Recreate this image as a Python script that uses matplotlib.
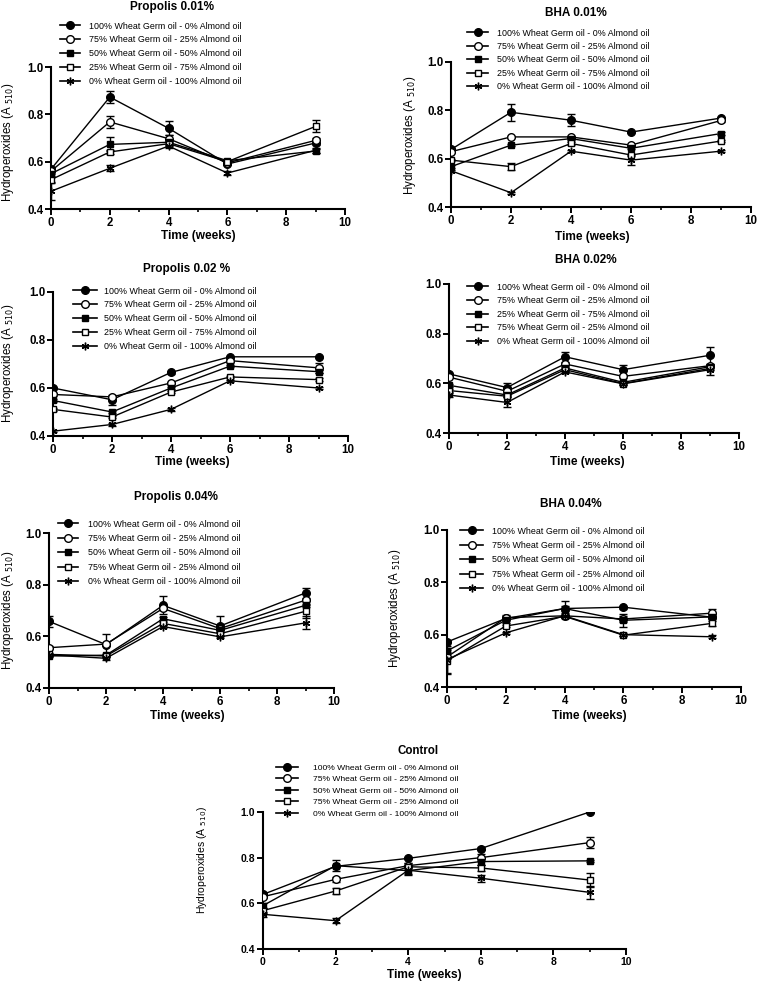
import matplotlib
matplotlib.use("Agg")
import matplotlib.pyplot as plt
from matplotlib.lines import Line2D
from matplotlib.ticker import MultipleLocator, FormatStrFormatter

plt.rcParams['font.family'] = ['Liberation Sans', 'DejaVu Sans']

W, H = 757, 983
weeks = [0, 2, 4, 6, 9]

labels_std = ["100% Wheat Germ oil - 0% Almond oil",
              "75% Wheat Germ oil - 25% Almond oil",
              "50% Wheat Germ oil - 50% Almond oil",
              "25% Wheat Germ oil - 75% Almond oil",
              "0% Wheat Germ oil - 100% Almond oil"]
labels_bha002 = ["100% Wheat Germ oil - 0% Almond oil",
                 "75% Wheat Germ oil - 25% Almond oil",
                 "25% Wheat Germ oil - 75% Almond oil",
                 "75% Wheat Germ oil - 25% Almond oil",
                 "0% Wheat Germ oil - 100% Almond oil"]
labels_alt = ["100% Wheat Germ oil - 0% Almond oil",
              "75% Wheat Germ oil - 25% Almond oil",
              "50% Wheat Germ oil - 50% Almond oil",
              "75% Wheat Germ oil - 25% Almond oil",
              "0% Wheat Germ oil - 100% Almond oil"]

# Propolis 0.01%
prop001 = [[0.568, 0.873, 0.741, 0.590, 0.679],
           [0.560, 0.768, 0.697, 0.595, 0.690],
           [0.549, 0.673, 0.682, 0.604, 0.645],
           [0.524, 0.641, 0.676, 0.600, 0.749],
           [0.475, 0.572, 0.666, 0.552, 0.648]]
prop001_err = [[0.010, 0.025, 0.030, 0.005, 0.010],
               [0.010, 0.025, 0.015, 0.005, 0.010],
               [0.010, 0.030, 0.010, 0.005, 0.010],
               [0.010, 0.010, 0.010, 0.005, 0.025],
               [0.035, 0.012, 0.010, 0.008, 0.010]]
# BHA 0.01%
bha001 = [[0.638, 0.792, 0.759, 0.710, 0.768],
          [0.629, 0.690, 0.690, 0.656, 0.758],
          [0.567, 0.656, 0.683, 0.643, 0.704],
          [0.594, 0.567, 0.663, 0.615, 0.673],
          [0.550, 0.459, 0.631, 0.594, 0.631]]
bha001_err = [[0.005, 0.035, 0.025, 0.005, 0.005],
              [0.005, 0.005, 0.005, 0.005, 0.005],
              [0.005, 0.005, 0.005, 0.005, 0.005],
              [0.005, 0.015, 0.005, 0.005, 0.005],
              [0.005, 0.005, 0.005, 0.020, 0.005]]
# Propolis 0.02 %
prop002 = [[0.600, 0.551, 0.665, 0.730, 0.730],
           [0.573, 0.563, 0.621, 0.714, 0.684],
           [0.548, 0.500, 0.600, 0.691, 0.668],
           [0.511, 0.479, 0.583, 0.646, 0.635],
           [0.420, 0.448, 0.511, 0.630, 0.600]]
prop002_err = [[0.005, 0.020, 0.005, 0.005, 0.005],
               [0.005, 0.005, 0.005, 0.005, 0.020],
               [0.005, 0.005, 0.005, 0.005, 0.005],
               [0.005, 0.005, 0.005, 0.005, 0.005],
               [0.005, 0.005, 0.005, 0.005, 0.005]]
# BHA 0.02%
bha002 = [[0.638, 0.583, 0.707, 0.655, 0.713],
          [0.625, 0.568, 0.678, 0.628, 0.671],
          [0.592, 0.553, 0.662, 0.604, 0.667],
          [0.571, 0.548, 0.655, 0.599, 0.660],
          [0.553, 0.523, 0.646, 0.598, 0.655]]
bha002_err = [[0.005, 0.020, 0.020, 0.020, 0.035],
              [0.005, 0.010, 0.005, 0.005, 0.005],
              [0.005, 0.005, 0.005, 0.005, 0.005],
              [0.005, 0.005, 0.005, 0.005, 0.005],
              [0.010, 0.020, 0.005, 0.005, 0.020]]
# Propolis 0.04%
prop004 = [[0.658, 0.568, 0.720, 0.640, 0.768],
           [0.556, 0.570, 0.708, 0.630, 0.740],
           [0.524, 0.527, 0.668, 0.623, 0.720],
           [0.530, 0.524, 0.650, 0.610, 0.697],
           [0.528, 0.515, 0.638, 0.598, 0.652]]
prop004_err = [[0.020, 0.040, 0.035, 0.040, 0.020],
               [0.005, 0.005, 0.005, 0.005, 0.005],
               [0.005, 0.005, 0.005, 0.005, 0.005],
               [0.005, 0.005, 0.005, 0.005, 0.025],
               [0.005, 0.005, 0.005, 0.005, 0.025]]
# BHA 0.04%
bha004 = [[0.572, 0.662, 0.700, 0.705, 0.667],
          [0.515, 0.665, 0.672, 0.660, 0.682],
          [0.538, 0.655, 0.700, 0.655, 0.668],
          [0.500, 0.633, 0.670, 0.598, 0.643],
          [0.505, 0.607, 0.672, 0.600, 0.592]]
bha004_err = [[0.005, 0.010, 0.030, 0.005, 0.005],
              [0.005, 0.010, 0.010, 0.010, 0.015],
              [0.005, 0.010, 0.010, 0.025, 0.010],
              [0.050, 0.005, 0.005, 0.005, 0.010],
              [0.050, 0.005, 0.005, 0.005, 0.005]]
# Control
control = [[0.639, 0.762, 0.797, 0.840, 1.000],
           [0.629, 0.705, 0.765, 0.800, 0.866],
           [0.590, 0.765, 0.743, 0.783, 0.786],
           [0.568, 0.654, 0.760, 0.755, 0.702],
           [0.552, 0.524, 0.745, 0.710, 0.648]]
control_err = [[0.005, 0.005, 0.005, 0.005, 0.005],
               [0.005, 0.010, 0.010, 0.015, 0.025],
               [0.010, 0.025, 0.020, 0.015, 0.005],
               [0.010, 0.015, 0.015, 0.015, 0.030],
               [0.010, 0.010, 0.015, 0.015, 0.030]]

styles = [dict(marker='o', mfc='black'),
          dict(marker='o', mfc='white'),
          dict(marker='s', mfc='black'),
          dict(marker='s', mfc='white'),
          dict(marker=(6, 2, 0), mfc='black')]

fig = plt.figure(figsize=(W / 100, H / 100), dpi=100)


def add_panel(box, data, errs, labels, title, title_xy, leg, xl_xy, yl_xy,
              small=False):
    x0, x1, yt, yb = box
    ax = fig.add_axes([x0 / W, 1 - yb / H, (x1 - x0) / W, (yb - yt) / H])
    handles = []
    for vals, err, st, lab in zip(data, errs, styles, labels):
        ax.errorbar(weeks, vals, yerr=err, fmt='none', ecolor='black',
                    elinewidth=1.0, capsize=3.2, capthick=1.0, zorder=2)
        ms = 5.0 if st['marker'] == 's' else 5.5
        ax.plot(weeks, vals, color='black', lw=1.0, marker=st['marker'],
                ms=ms, mfc=st['mfc'], mec='black', mew=1.0, zorder=3)
        handles.append(Line2D([], [], color='black', lw=1.2, marker=st['marker'],
                              ms=ms, mfc=st['mfc'], mec='black', mew=1.0, label=lab))
    ax.set_xlim(0, 10)
    ax.set_ylim(0.4, 1.0)
    ax.xaxis.set_major_locator(MultipleLocator(2))
    ax.xaxis.set_minor_locator(MultipleLocator(1))
    ax.yaxis.set_major_locator(MultipleLocator(0.2))
    for s in ['top', 'right']:
        ax.spines[s].set_visible(False)
    for s in ['left', 'bottom']:
        ax.spines[s].set_linewidth(1.5)
    tfs = 7.5 if small else 8.3
    ax.tick_params(which='major', length=4, width=1.4, labelsize=tfs, pad=1.5)
    ax.tick_params(which='minor', length=2.5, width=1.2)
    ax.yaxis.set_major_formatter(FormatStrFormatter('%.1f'))
    for t in ax.get_xticklabels() + ax.get_yticklabels():
        t.set_fontweight('bold')
    ax.patch.set_alpha(0)
    fig.text(title_xy[0] / W, 1 - title_xy[1] / H, title, ha='center', va='center',
             fontsize=8.5 if not small else 8.3, fontweight='bold')
    hx, row1, rowstep, hlen, tstart, lfs = leg
    fpx = lfs * 100 / 72
    fig.legend(handles=handles, loc='upper left', frameon=False, fontsize=lfs,
               bbox_to_anchor=(hx / W, 1 - (row1 - 0.5 * fpx) / H),
               borderaxespad=0, borderpad=0,
               labelspacing=(rowstep - fpx) / fpx,
               handlelength=hlen / fpx, handletextpad=(tstart - hx - hlen) / fpx)
    fig.text(xl_xy[0] / W, 1 - xl_xy[1] / H, 'Time (weeks)', ha='center', va='center',
             fontsize=8.6, fontweight='bold')
    if yl_xy is not None:
        fig.text(yl_xy[0] / W, 1 - yl_xy[1] / H, r'Hydroperoxides (A $_{510}$)',
                 ha='center', va='center', rotation=90,
                 fontsize=8.3 if not small else 7.5)
    return ax


add_panel((51, 345, 67, 209), prop001, prop001_err, labels_std, 'Propolis 0.01%',
          (172, 7), (60, 26, 13.75, 20, 89, 6.4), (198, 236), (8, 142))
add_panel((451, 751, 62, 207), bha001, bha001_err, labels_std, 'BHA 0.01%',
          (576, 13), (467, 33, 13.25, 21, 497, 6.4), (592, 237), (410, 135))
add_panel((53, 348, 292, 436), prop002, prop002_err, labels_std, 'Propolis 0.02 %',
          (187, 269), (73, 291, 13.75, 24, 104, 6.4), (192, 462), (8, 363))
add_panel((449, 739, 284, 433), bha002, bha002_err, labels_bha002, 'BHA 0.02%',
          (586, 260), (467, 287, 13.5, 21, 497, 6.4), (587, 462), None)
add_panel((49, 334, 533, 688), prop004, prop004_err, labels_alt, 'Propolis 0.04%',
          (176, 497), (58, 524, 14.25, 20, 88, 6.4), (187, 716), (8, 610))
add_panel((447, 741, 530, 687), bha004, bha004_err, labels_alt, 'BHA 0.04%',
          (571, 504), (460, 531, 14.25, 23, 492, 6.4), (589, 716), (395, 608))
add_panel((263, 626, 812, 949), control, control_err, labels_alt, 'Control',
          (418, 751), (276, 768, 12.0, 22, 313, 6.1), (424, 975), (202, 860),
          small=True)

fig.savefig('out.png', dpi=100)
